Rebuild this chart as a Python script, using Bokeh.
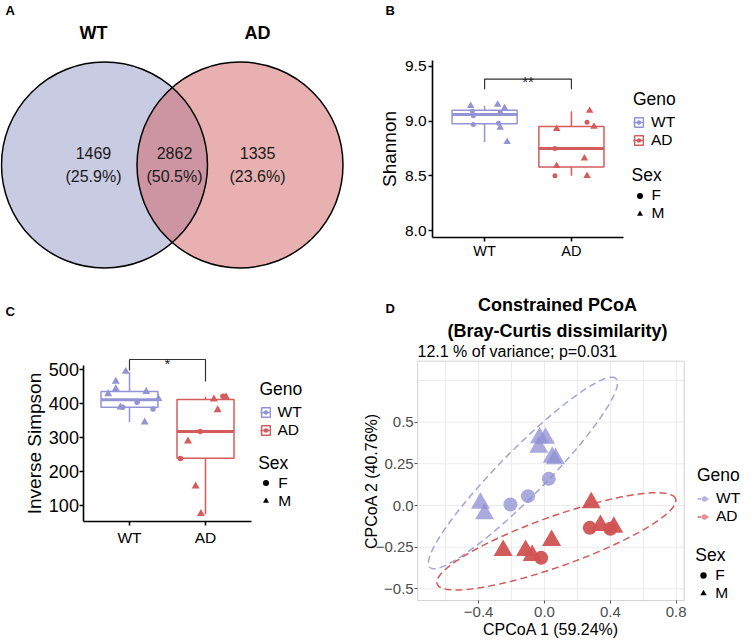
import numpy as np
from bokeh.plotting import figure
from bokeh.layouts import row, column
from bokeh.models import (ColumnDataSource, FixedTicker, Label, Legend, LegendItem,
                          Range1d, CustomJSTickFormatter, BoxAnnotation)
from bokeh.core.properties import value
from bokeh.embed import file_html
from bokeh.resources import INLINE

FONT = "Liberation Sans"

# ---------------- data ----------------
# A: Venn diagram of shared features
venn_groups = ["WT", "AD"]
venn_unique = [1469, 1335]
venn_unique_pct = ["(25.9%)", "(23.6%)"]
venn_shared = 2862
venn_shared_pct = "(50.5%)"

geno = ["WT", "AD"]
sex_levels = ["F", "M"]

# B: Shannon
shannon_wt = [9.14, 9.15, 9.12, 8.94, 8.81, 9.09, 9.05, 8.97, 8.98, 9.08]
shannon_wt_sex = ["M", "M", "M", "M", "M", "F", "F", "F", "F", "F"]
shannon_wt_jit = [-0.16, 0.15, 0.23, 0.18, 0.26, -0.14, -0.13, -0.13, 0.16, 0.18]
shannon_ad = [9.095, 8.99, 8.95, 8.93, 8.75, 8.66, 8.59, 8.50, 8.50]
shannon_ad_sex = ["M", "F", "M", "M", "F", "M", "M", "F", "M"]
shannon_ad_jit = [0.21, 0.18, 0.26, -0.17, -0.19, 0.15, -0.17, -0.19, 0.18]
shannon_lower = [8.81, 8.50]
shannon_q1 = [8.975, 8.58]
shannon_median = [9.06, 8.75]
shannon_q3 = [9.10, 8.95]
shannon_upper = [9.14, 9.09]
shannon_ticks = [8.0, 8.5, 9.0, 9.5]
shannon_ylim = [7.936, 9.555]
shannon_sig = "**"
shannon_bracket = [9.29, 9.383, 9.29]   # left tip, top, right tip
shannon_sig_y = 9.358

# C: Inverse Simpson
invsimp_wt = [494, 465, 443, 428, 435, 414, 345, 389, 389, 404, 384]
invsimp_wt_sex = ["M", "M", "M", "M", "M", "M", "M", "M", "F", "F", "F"]
invsimp_wt_jit = [-0.05, -0.18, -0.18, -0.28, 0.22, 0.38, 0.20, -0.12, -0.09, 0.10, 0.31]
invsimp_ad = [421, 419, 413, 381, 318, 289, 238, 157, 76]
invsimp_ad_sex = ["F", "M", "M", "M", "F", "M", "F", "M", "M"]
invsimp_ad_jit = [0.23, 0.27, 0.11, 0.16, -0.07, -0.23, -0.33, -0.13, -0.06]
invsimp_lower = [345, 74]
invsimp_q1 = [389, 239]
invsimp_median = [411, 318]
invsimp_q3 = [435, 412]
invsimp_upper = [492, 420]
invsimp_ticks = [100, 200, 300, 400, 500]
invsimp_ylim = [52.9, 511.8]
invsimp_sig = "*"
invsimp_bracket = [497, 529.4, 464.7]
invsimp_sig_y = 517

# D: constrained PCoA
pcoa_wt_x = [-0.030, 0.006, -0.035, 0.047, 0.067, -0.389, -0.364, 0.026, -0.100, -0.207]
pcoa_wt_y = [0.406, 0.404, 0.350, 0.290, 0.280, 0.014, -0.050, 0.160, 0.056, 0.006]
pcoa_wt_sex = ["M", "M", "M", "M", "M", "M", "M", "F", "F", "F"]
pcoa_ad_x = [0.284, 0.340, 0.421, 0.043, -0.115, -0.075, -0.251, 0.275, 0.400, -0.020]
pcoa_ad_y = [0.016, -0.120, -0.130, -0.210, -0.270, -0.300, -0.270, -0.134, -0.140, -0.314]
pcoa_ad_sex = ["M", "M", "M", "M", "M", "M", "M", "F", "F", "F"]
# ellipses: centre x, centre y, semi-major, semi-minor, angle (deg)
ellipse_wt = [-0.131, 0.195, 0.80, 0.14, 45.0]
ellipse_ad = [0.072, -0.215, 0.768, 0.15, 19.4]
pcoa_xlim = [-0.7706, 0.8486]
pcoa_ylim = [-0.570, 0.866]
pcoa_xticks = [-0.4, 0.0, 0.4, 0.8]
pcoa_yticks = [-0.5, -0.25, 0.0, 0.25, 0.5]
pcoa_xgrid = [-0.6, -0.4, -0.2, 0.0, 0.2, 0.4, 0.6, 0.8]
pcoa_ygrid = [-0.5, -0.25, 0.0, 0.25, 0.5, 0.75]
pcoa_title = "Constrained PCoA"
pcoa_title2 = "(Bray-Curtis dissimilarity)"
pcoa_subtitle = "12.1 % of variance; p=0.031"
pcoa_xlab = "CPCoA 1 (59.24%)"
pcoa_ylab = "CPCoA 2 (40.76%)"

# ---------------- styles / layout ----------------
WT_COL = "#9494D4"
AD_COL = "#D55C5C"
GENO_COL = [WT_COL, AD_COL]
BOX_W = 0.75
TOP_H, BOT_H = 295, 345
A_W, B_W = 380, 368
C_W, D_W = 355, 393
NAN = np.array([np.nan])   # legend-key renderers draw nothing in the plot


def label(p, x, y, text, size, bold=False, align="left", baseline="middle",
          color="black", angle=0.0):
    p.add_layout(Label(x=x, y=y, x_units="screen", y_units="screen", text=text,
                       text_font=FONT, text_font_size=f"{size}px",
                       text_font_style="bold" if bold else "normal",
                       text_align=align, text_baseline=baseline,
                       text_color=color, angle=angle))


def add_legends(p, geno_rs, sex_rs, lay):
    common = dict(border_line_color=None, background_fill_alpha=0, padding=0, margin=0,
                  spacing=0, label_text_font=FONT, label_text_font_size=lay["lab_px"],
                  label_text_color="black",
                  title_text_font=FONT, title_text_font_size=lay["tit_px"],
                  title_text_font_style="normal", title_text_color="black",
                  label_height=lay["lh"])
    lg = Legend(items=[LegendItem(label=g, renderers=rs) for g, rs in zip(geno, geno_rs)],
                title="Geno", location=lay["geno_loc"], title_standoff=lay["geno_ts"],
                glyph_width=lay["gw"], glyph_height=lay["gh"], label_standoff=lay["lab_off"],
                **common)
    ls = Legend(items=[LegendItem(label=s, renderers=[r]) for s, r in zip(sex_levels, sex_rs)],
                title="Sex", location=lay["sex_loc"], title_standoff=lay["sex_ts"],
                glyph_width=lay["sgw"], glyph_height=lay["sgw"], label_standoff=lay["soff"],
                **common)
    p.add_layout(lg)
    p.add_layout(ls)


def full_frame_fig(w, h, xr, yr, axes=True):
    kw = dict(width=w, height=h, x_range=Range1d(*xr), y_range=Range1d(*yr), min_border=0,
              toolbar_location=None, output_backend="svg")
    if not axes:
        kw.update(x_axis_location=None, y_axis_location=None)
    p = figure(**kw)
    p.outline_line_color = None
    p.grid.visible = False
    p.background_fill_color = "white"
    p.border_fill_color = "white"
    return p


# ---------------- A: Venn ----------------
VENN_PX = 103.0            # pixels per circle radius
A_CX, A_CY = 171.75, 164.5  # venn centre in pixels of panel A
VENN_SEP = 1.3155
VENN_LABEL_X = [-0.765, 0.022, 0.828]

pA = full_frame_fig(A_W, TOP_H,
                    (-A_CX / VENN_PX, (A_W - A_CX) / VENN_PX),
                    (-(TOP_H - A_CY) / VENN_PX, A_CY / VENN_PX), axes=False)
cx = [-VENN_SEP / 2, VENN_SEP / 2]
pA.circle(x=[cx[0]], y=[0], radius=1.0, fill_color="#8E93C5", fill_alpha=0.48, line_color=None)
pA.circle(x=[cx[1]], y=[0], radius=1.0, fill_color="#CF5A5A", fill_alpha=0.48, line_color=None)
pA.circle(x=cx, y=[0, 0], radius=1.0, fill_color=None, line_color="black", line_width=1.5)
pA.text(x=[VENN_LABEL_X[0], VENN_LABEL_X[2]], y=[1.277, 1.277], text=venn_groups,
        text_font=value(FONT), text_font_size="18px", text_font_style="bold",
        text_align="center", text_baseline="middle", text_color="black")
nums = [str(venn_unique[0]), str(venn_shared), str(venn_unique[1])]
pcts = [venn_unique_pct[0], venn_shared_pct, venn_unique_pct[1]]
pA.text(x=VENN_LABEL_X, y=[0.112] * 3, text=nums, text_font=value(FONT), text_font_size="16px",
        text_align="center", text_baseline="middle", text_color="#1a1a1a")
pA.text(x=VENN_LABEL_X, y=[-0.112] * 3, text=pcts, text_font=value(FONT), text_font_size="16px",
        text_align="center", text_baseline="middle", text_color="#1a1a1a")
label(pA, 5, TOP_H - 2, "A", 13, bold=True, baseline="top")


# ---------------- box panels ----------------
def make_box_panel(vals_wt, sex_wt, jit_wt, vals_ad, sex_ad, jit_ad,
                   lower, q1, med, q3, upper, yticks, ylim, ydec, ylabel,
                   bracket, sig, sig_y, letter, lay):
    # pixel calibration -> data ranges covering the whole canvas
    X0, Y0, W, H = lay["box"]
    xcal = lambda px: 1 + (px - lay["x1px"]) / lay["xppu"]
    ycal = lambda py: lay["yref"] + (lay["yrefpx"] - py) / lay["yppu"]
    p = full_frame_fig(W, H, (xcal(X0), xcal(X0 + W)), (ycal(Y0 + H), ycal(Y0)))
    pos = [1, 2]
    box = ColumnDataSource(dict(x=pos, lower=lower, q1=q1, med=med, q3=q3, upper=upper,
                                color=GENO_COL,
                                x0=[x - BOX_W / 2 for x in pos], x1=[x + BOX_W / 2 for x in pos]))
    p.segment(x0="x", x1="x", y0="q3", y1="upper", line_color="color", line_width=1.5, source=box)
    p.segment(x0="x", x1="x", y0="lower", y1="q1", line_color="color", line_width=1.5, source=box)
    p.vbar(x="x", width=BOX_W, bottom="q1", top="q3", fill_color="white", line_color="color",
           line_width=1.5, source=box)
    p.segment(x0="x0", x1="x1", y0="med", y1="med", line_color="color", line_width=3, source=box)

    xs = [1 + j for j in jit_wt] + [2 + j for j in jit_ad]
    ys = list(vals_wt) + list(vals_ad)
    sx = list(sex_wt) + list(sex_ad)
    cols = [WT_COL] * len(vals_wt) + [AD_COL] * len(vals_ad)
    pts = ColumnDataSource(dict(x=xs, y=ys, color=cols,
                                marker=["circle" if s == "F" else "triangle" for s in sx],
                                size=[lay["dot"] if s == "F" else lay["tri"] for s in sx]))
    p.scatter(x="x", y="y", marker="marker", size="size", fill_color="color",
              line_color=None, source=pts)

    # significance bracket
    p.line(x=[1, 1, 2, 2], y=[bracket[0], bracket[1], bracket[1], bracket[2]],
           line_color="#333333", line_width=1.2)
    p.text(x=[1.5], y=[sig_y], text=[sig], text_font=value(FONT), text_font_size="15px",
           text_align="center", text_baseline="alphabetic", text_color="#222222")

    # axes drawn at the panel edges
    p.xaxis.fixed_location = ylim[0]
    p.xaxis.bounds = (0.4, 2.6)
    p.yaxis.fixed_location = 0.4
    p.yaxis.bounds = tuple(ylim)
    p.xaxis.ticker = FixedTicker(ticks=pos)
    p.xaxis.formatter = CustomJSTickFormatter(args=dict(labels=geno),
                                              code="return labels[Math.round(tick) - 1];")
    p.yaxis.ticker = FixedTicker(ticks=yticks)
    p.yaxis.formatter = CustomJSTickFormatter(code=f"return tick.toFixed({ydec});")
    p.yaxis.axis_label = ylabel
    for ax in p.axis:
        ax.axis_line_color = "black"
        ax.axis_line_width = 1.6
        ax.major_tick_line_color = "black"
        ax.major_tick_line_width = 1.6
        ax.major_tick_out = 4
        ax.major_tick_in = 0
        ax.minor_tick_out = 0
        ax.minor_tick_in = 0
        ax.major_label_text_font = FONT
        ax.major_label_text_color = "black"
        ax.axis_label_text_font = FONT
        ax.axis_label_text_font_style = "normal"
        ax.axis_label_text_color = "black"
    p.xaxis.major_label_text_font_size = lay["xtick_px"]
    p.yaxis.major_label_text_font_size = lay["ytick_px"]
    p.xaxis.major_label_standoff = lay["xstand"]
    p.yaxis.major_label_standoff = lay["ystand"]
    p.yaxis.axis_label_text_font_size = "19px"
    p.yaxis.axis_label_standoff = lay["ylab_stand"]

    # legend keys (renderers holding a single NaN row, so only the key is drawn)
    geno_rs = []
    for c in GENO_COL:
        rb = p.vbar(x=NAN, top=NAN, bottom=NAN, width=BOX_W, fill_color="white", line_color=c,
                    line_width=1.5)
        rl = p.line(x=NAN, y=NAN, line_color=c, line_width=1.5)
        rd = p.scatter(x=NAN, y=NAN, marker="circle", fill_color=c, line_color=None)
        geno_rs.append([rb, rl, rd])
    sex_rs = [p.scatter(x=NAN, y=NAN, marker=m, fill_color="black", line_color=None)
              for m in ["circle", "triangle"]]
    add_legends(p, geno_rs, sex_rs, lay)
    label(p, lay["letter_xy"][0], lay["letter_xy"][1], letter, 13, bold=True, baseline="top")
    return p


layB = dict(box=(A_W, 0, B_W, TOP_H), x1px=484.1, xppu=86.82, yref=8.0, yrefpx=230, yppu=109.4,
            dot=5, tri=7.5, xtick_px="14.5px", ytick_px="15.5px",
            xstand=1, ystand=2, ylab_stand=2,
            lab_px="15.5px", tit_px="17.5px", lab_off=7, gw=11, gh=12, lh=17, sgw=15, soff=5,
            geno_loc=(253, 146.5), geno_ts=3, sex_loc=(251.5, 73), sex_ts=0,
            letter_xy=(5, TOP_H - 2))
pB = make_box_panel(shannon_wt, shannon_wt_sex, shannon_wt_jit,
                    shannon_ad, shannon_ad_sex, shannon_ad_jit,
                    shannon_lower, shannon_q1, shannon_median, shannon_q3, shannon_upper,
                    shannon_ticks, shannon_ylim, 1, "Shannon", shannon_bracket, shannon_sig,
                    shannon_sig_y, "B", layB)

layC = dict(box=(0, TOP_H, C_W, BOT_H), x1px=129.0, xppu=76.0, yref=500.0, yrefpx=369, yppu=0.34,
            dot=5.5, tri=8, xtick_px="15.5px", ytick_px="18px",
            xstand=3, ystand=1, ylab_stand=0,
            lab_px="15.5px", tit_px="17.5px", lab_off=7, gw=11, gh=12, lh=17, sgw=15, soff=5,
            geno_loc=(259.5, 200.6), geno_ts=3, sex_loc=(258.2, 130.5), sex_ts=0,
            letter_xy=(5, 640 - 303))
pC = make_box_panel(invsimp_wt, invsimp_wt_sex, invsimp_wt_jit,
                    invsimp_ad, invsimp_ad_sex, invsimp_ad_jit,
                    invsimp_lower, invsimp_q1, invsimp_median, invsimp_q3, invsimp_upper,
                    invsimp_ticks, invsimp_ylim, 0, "Inverse Simpson", invsimp_bracket,
                    invsimp_sig, invsimp_sig_y, "C", layC)

# ---------------- D: PCoA ----------------
DX0, DY0 = C_W, TOP_H
dxcal = lambda px: (px - 544.0) / 164.6
dycal = lambda py: (505.0 - py) / 166.7
pD = full_frame_fig(D_W, BOT_H, (dxcal(DX0), dxcal(DX0 + D_W)), (dycal(DY0 + BOT_H), dycal(DY0)))

# panel grid lines (theme_bw style), limited to the panel
pD.segment(x0=pcoa_xgrid, x1=pcoa_xgrid, y0=[pcoa_ylim[0]] * len(pcoa_xgrid),
           y1=[pcoa_ylim[1]] * len(pcoa_xgrid), line_color="#EBEBEB", line_width=1)
pD.segment(x0=[pcoa_xlim[0]] * len(pcoa_ygrid), x1=[pcoa_xlim[1]] * len(pcoa_ygrid),
           y0=pcoa_ygrid, y1=pcoa_ygrid, line_color="#EBEBEB", line_width=1)


def ellipse_xy(par, n=240):
    cxe, cye, a, b, ang = par
    t = np.linspace(0, 2 * np.pi, n)
    th = np.deg2rad(ang)
    x = cxe + a * np.cos(t) * np.cos(th) - b * np.sin(t) * np.sin(th)
    y = cye + a * np.cos(t) * np.sin(th) + b * np.sin(t) * np.cos(th)
    return x, y


ex, ey = ellipse_xy(ellipse_wt)
pD.line(ex, ey, line_color="#A4A4D9", line_width=1.5, line_dash="7 4")
ex, ey = ellipse_xy(ellipse_ad)
pD.line(ex, ey, line_color="#D45A5A", line_width=1.5, line_dash="7 4")

for xs_, ys_, sx_, col, alpha in [(pcoa_wt_x, pcoa_wt_y, pcoa_wt_sex, "#9090D4", 0.77),
                                  (pcoa_ad_x, pcoa_ad_y, pcoa_ad_sex, "#D05252", 0.95)]:
    src = ColumnDataSource(dict(x=xs_, y=ys_,
                                marker=["circle" if s == "F" else "triangle" for s in sx_],
                                size=[14 if s == "F" else 19 for s in sx_]))
    pD.scatter(x="x", y="y", marker="marker", size="size", fill_color=col, fill_alpha=alpha,
               line_color=None, source=src)

pD.add_layout(BoxAnnotation(left=pcoa_xlim[0], right=pcoa_xlim[1], bottom=pcoa_ylim[0],
                            top=pcoa_ylim[1], fill_alpha=0, fill_color=None,
                            line_color="#6e6e6e", line_width=1))

pD.xaxis.fixed_location = pcoa_ylim[0]
pD.xaxis.bounds = tuple(pcoa_xlim)
pD.yaxis.fixed_location = pcoa_xlim[0]
pD.yaxis.bounds = tuple(pcoa_ylim)
pD.xaxis.ticker = FixedTicker(ticks=pcoa_xticks)
pD.yaxis.ticker = FixedTicker(ticks=pcoa_yticks)
fmt_code = ("const a = Math.abs(tick);"
            "const s = (Math.abs(a*10 - Math.round(a*10)) < 1e-9) ? a.toFixed(1) : a.toFixed(2);"
            "return (tick < -1e-12 ? '\u2212' : '') + s;")
pD.xaxis.formatter = CustomJSTickFormatter(code=fmt_code)
pD.yaxis.formatter = CustomJSTickFormatter(code=fmt_code)
pD.xaxis.axis_label = pcoa_xlab
pD.yaxis.axis_label = pcoa_ylab
for ax in pD.axis:
    ax.axis_line_color = None
    ax.major_tick_line_color = "#555555"
    ax.major_tick_out = 3
    ax.major_tick_in = 0
    ax.minor_tick_out = 0
    ax.minor_tick_in = 0
    ax.major_label_text_font = FONT
    ax.major_label_text_font_size = "15px"
    ax.major_label_text_color = "#4D4D4D"
    ax.axis_label_text_font = FONT
    ax.axis_label_text_font_size = "16px"
    ax.axis_label_text_font_style = "normal"
    ax.axis_label_text_color = "black"
pD.xaxis.major_label_standoff = 3
pD.yaxis.major_label_standoff = 1
pD.xaxis.axis_label_standoff = 1
pD.yaxis.axis_label_standoff = -7

d_geno_rs = []
for lc, dc in [("#ABABDD", "#B4B4E0"), ("#D97272", "#E39393")]:
    rl = pD.line(x=NAN, y=NAN, line_color=lc, line_width=1.5, line_dash="4 3")
    rd = pD.scatter(x=NAN, y=NAN, marker="circle", fill_color=dc, line_color=None)
    d_geno_rs.append([rl, rd])
d_sex_rs = [pD.scatter(x=NAN, y=NAN, marker=m, fill_color="black", line_color=None)
            for m in ["circle", "triangle"]]
layD = dict(lab_px="15.5px", tit_px="17.5px", lab_off=5, gw=14, gh=15, lh=15, sgw=16, soff=4,
            geno_loc=(342, 115), geno_ts=3, sex_loc=(340.3, 38), sex_ts=0)
add_legends(pD, d_geno_rs, d_sex_rs, layD)

label(pD, 557 - DX0, 640 - 304, pcoa_title, 18, bold=True, align="center")
label(pD, 557 - DX0, 640 - 330, pcoa_title2, 18, bold=True, align="center")
label(pD, 417 - DX0, 640 - 351, pcoa_subtitle, 16)
label(pD, 385 - DX0, 640 - 300, "D", 13, bold=True, baseline="top")

layout = column(row(pA, pB), row(pC, pD))
open("out.html", "w").write(file_html(layout, INLINE))
